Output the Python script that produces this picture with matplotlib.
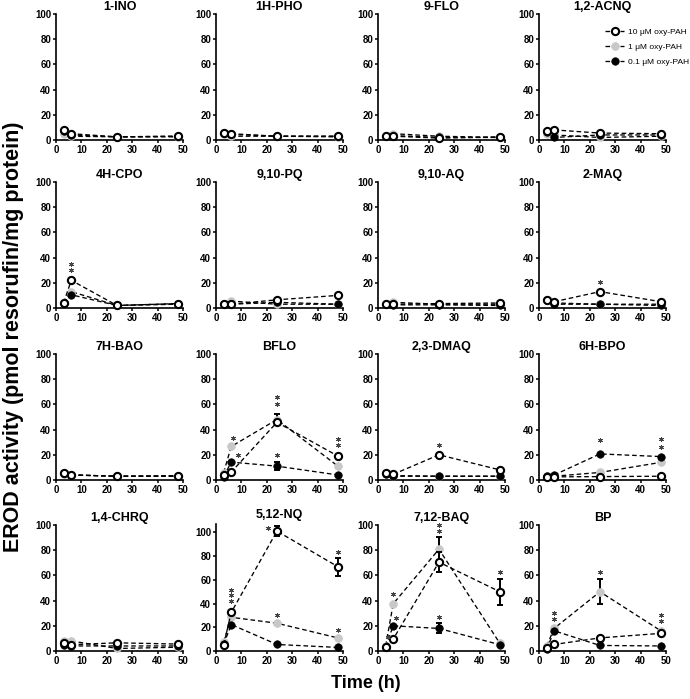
import matplotlib
matplotlib.use('Agg')
import matplotlib.pyplot as plt
from matplotlib.lines import Line2D

plt.rcParams['font.family'] = ['Liberation Sans', 'DejaVu Sans']

# ---------------- data ----------------
times = [3, 6, 24, 48]

panels = ['1-INO', '1H-PHO', '9-FLO', '1,2-ACNQ',
          '4H-CPO', '9,10-PQ', '9,10-AQ', '2-MAQ',
          '7H-BAO', 'BFLO', '2,3-DMAQ', '6H-BPO',
          '1,4-CHRQ', '5,12-NQ', '7,12-BAQ', 'BP']

# 10 uM oxy-PAH (open circles)
oxy10 = [[8, 5, 2.5, 3], [5.5, 5, 3, 3], [3, 3, 1.5, 2.5], [7, 8, 5.5, 5],
         [4, 22, 2, 3.5], [3, 3, 6.5, 10], [3.5, 3, 3.5, 4], [6, 5, 13, 5],
         [5.5, 4, 3, 3.5], [3.7, 6.3, 45.8, 19], [5.5, 4.5, 20, 8], [2.5, 2.5, 2.7, 3],
         [6, 5, 6.5, 5.5], [5, 32.5, 101, 71], [3.5, 9.5, 70.5, 47], [2, 5.2, 10.4, 14]]
err10 = [[0, 0, 0, 0], [0, 0, 0, 0], [0, 0, 0, 0], [0, 0, 0, 0],
         [0, 0, 0, 0], [0, 0, 0, 1.5], [0, 0, 0, 0], [0, 0, 0, 0],
         [0, 0, 0, 0], [0, 0, 2, 0], [0, 0, 0, 0], [0, 0, 0, 0],
         [0, 0, 0, 0], [0, 1, 4, 7.5], [0, 0, 8, 10.5], [0, 0, 0, 0]]

# 1 uM oxy-PAH (grey circles)
oxy1 = [[5, 3, 2.5, 2.5], [5, 3, 3, 2.5], [3, 5, 3, 2], [5, 4, 2, 3],
        [4, 13, 2, 3], [3, 5.5, 3, 3], [3.5, 4.5, 3, 3], [6, 4, 3, 3],
        [5, 4, 3, 3], [5.8, 26.6, 48, 11], [5, 3, 3, 3], [3, 3, 6, 14],
        [8, 8, 2, 3], [7.7, 28.4, 23.4, 11], [4, 37.5, 80.8, 6], [4, 18, 47, 16]]
err1 = [[0, 0, 0, 0], [0, 0, 0, 0], [0, 0, 0, 0], [0, 0, 0, 0],
        [0, 0, 0, 0], [0, 0, 0, 0], [0, 0, 0, 0], [0, 0, 0, 0],
        [0, 0, 0, 0], [0, 0, 4, 0], [0, 0, 0, 0], [0, 0, 0, 0],
        [0, 0, 0, 0], [0, 0, 0, 0], [0, 0, 10, 0], [0, 0, 10, 0]]

# 0.1 uM oxy-PAH (black circles)
oxy01 = [[7, 4, 2.5, 3], [5.5, 4.5, 3, 3], [3, 3.5, 2, 2], [6, 2, 4, 4],
         [4, 10.5, 2, 3.5], [3, 3, 4.5, 3], [3, 2.5, 2.5, 2], [6, 3, 3, 2],
         [5.5, 4, 3, 3], [2.6, 14.2, 11, 4], [5, 3.5, 3, 3], [3, 4, 20.7, 18.6],
         [5, 4, 4, 4], [5.5, 22.3, 5.5, 3], [3.5, 20, 17.9, 5], [1.3, 16, 4.4, 4]]
err01 = [[0, 0, 0, 0], [0, 0, 0, 0], [0, 0, 0, 0], [0, 0, 0, 0],
         [0, 0, 0, 0], [0, 0, 0, 0], [0, 0, 0, 0], [0, 0, 0, 0],
         [0, 0, 0, 0], [0, 0, 3, 0], [0, 0, 0, 0], [0, 0, 0, 0],
         [0, 0, 0, 0], [0, 0, 0, 0], [0, 1, 4, 0], [0, 0, 0, 0]]

# significance asterisks: (panel index, time, value)
stars = [(4, 6, 35), (4, 6, 30.5),
         (7, 24, 21),
         (9, 6.5, 33.4), (9, 8.6, 19.5), (9, 24, 66), (9, 24, 60.5), (9, 24, 19.5),
         (9, 48, 32.6), (9, 48, 27.4),
         (10, 24, 28),
         (11, 24, 32), (11, 48, 32.4), (11, 48, 26.5),
         (13, 6, 51.8), (13, 6, 46.8), (13, 6, 41.9), (13, 20.3, 104), (13, 48, 83),
         (13, 24, 30), (13, 48, 18),
         (14, 5.9, 45), (14, 7.2, 25.8), (14, 4, 11), (14, 24, 100), (14, 24, 95),
         (14, 24, 27), (14, 48, 63),
         (15, 6, 30.5), (15, 6, 25.6), (15, 24, 63), (15, 48, 28.7), (15, 48, 23.5)]

ymax_list = [100] * 16
ymax_list[13] = 107

series_labels = ['10 \u03bcM oxy-PAH', '1 \u03bcM oxy-PAH', '0.1 \u03bcM oxy-PAH']

# ---------------- layout ----------------
W, H = 690, 699
fig = plt.figure(figsize=(W / 100, H / 100), dpi=100)

col_left = [56, 216, 378, 539]
col_w = 127
row_top = [14, 182, 354, 525]
row_h = 126

styles = {
    'open': dict(mfc='white', mec='black', mew=1.5, ms=5.2),
    'grey': dict(mfc='#c8c8c8', mec='#c8c8c8', mew=0.5, ms=5.6),
    'black': dict(mfc='black', mec='black', mew=0.5, ms=5.4),
}
dash = (0, (3.5, 2.2))


def draw(ax, y, err, st, z):
    ax.plot(times, y, ls=dash, color='black', lw=0.95, marker='o',
            zorder=z, clip_on=False, **styles[st])
    xs = [t for t, e in zip(times, err) if e > 0]
    ys = [v for v, e in zip(y, err) if e > 0]
    es = [e for e in err if e > 0]
    if xs:
        ax.errorbar(xs, ys, yerr=es, fmt='none', ecolor='black', elinewidth=1.4,
                    capsize=2.3, capthick=1.4, zorder=z - 0.5, clip_on=False)


for i, name in enumerate(panels):
    r, c = divmod(i, 4)
    ymax = ymax_list[i]
    bottom_px = row_top[r] + row_h
    h = row_h if ymax == 100 else row_h + 1
    ax = fig.add_axes([col_left[c] / W, 1 - bottom_px / H, col_w / W, h / H])

    draw(ax, oxy1[i], err1[i], 'grey', 3)
    draw(ax, oxy01[i], err01[i], 'black', 4)
    draw(ax, oxy10[i], err10[i], 'open', 5)

    ax.set_xlim(0, 50)
    ax.set_ylim(0, ymax)
    ax.set_xticks(range(0, 51, 10))
    ax.set_yticks(range(0, 101, 20))
    for s in ['top', 'right']:
        ax.spines[s].set_visible(False)
    for s in ['left', 'bottom']:
        ax.spines[s].set_linewidth(1.2)
    ax.tick_params(direction='out', length=2.5, width=1.1, labelsize=7, pad=1)
    for lab in ax.get_xticklabels() + ax.get_yticklabels():
        lab.set_fontweight('bold')

    for (pi, sx, sy) in stars:
        if pi == i:
            ax.plot([sx], [sy], marker=(6, 2, 0), ms=3.4, mew=0.7, color='#444444',
                    ls='none', zorder=6, clip_on=False)

    # panel title
    base = row_top[r] - 4 - (3 if ymax != 100 else 0)
    fig.text((col_left[c] + col_w / 2) / W, 1 - base / H, name,
             ha='center', va='baseline', fontsize=9, fontweight='bold')

# legend
handles = [
    Line2D([], [], ls=dash, color='black', lw=0.95, marker='o', **styles['open']),
    Line2D([], [], ls=dash, color='black', lw=0.95, marker='o', **styles['grey']),
    Line2D([], [], ls=dash, color='black', lw=0.95, marker='o', **styles['black']),
]
fig.legend(handles, series_labels, loc='upper right',
           bbox_to_anchor=(689 / W, 1 - 28 / H), frameon=False, fontsize=6,
           numpoints=1, handlelength=2.2, handletextpad=0.5, labelspacing=0.85,
           borderpad=0, borderaxespad=0)

fig.text(14 / W, 0.518, 'EROD activity (pmol resorufin/mg protein)', rotation=90,
         ha='center', va='center', fontsize=15.5, fontweight='bold')
fig.text(366 / W, 1 - 684 / H, 'Time (h)', ha='center', va='center',
         fontsize=13, fontweight='bold')

fig.savefig('out.png', dpi=100)
